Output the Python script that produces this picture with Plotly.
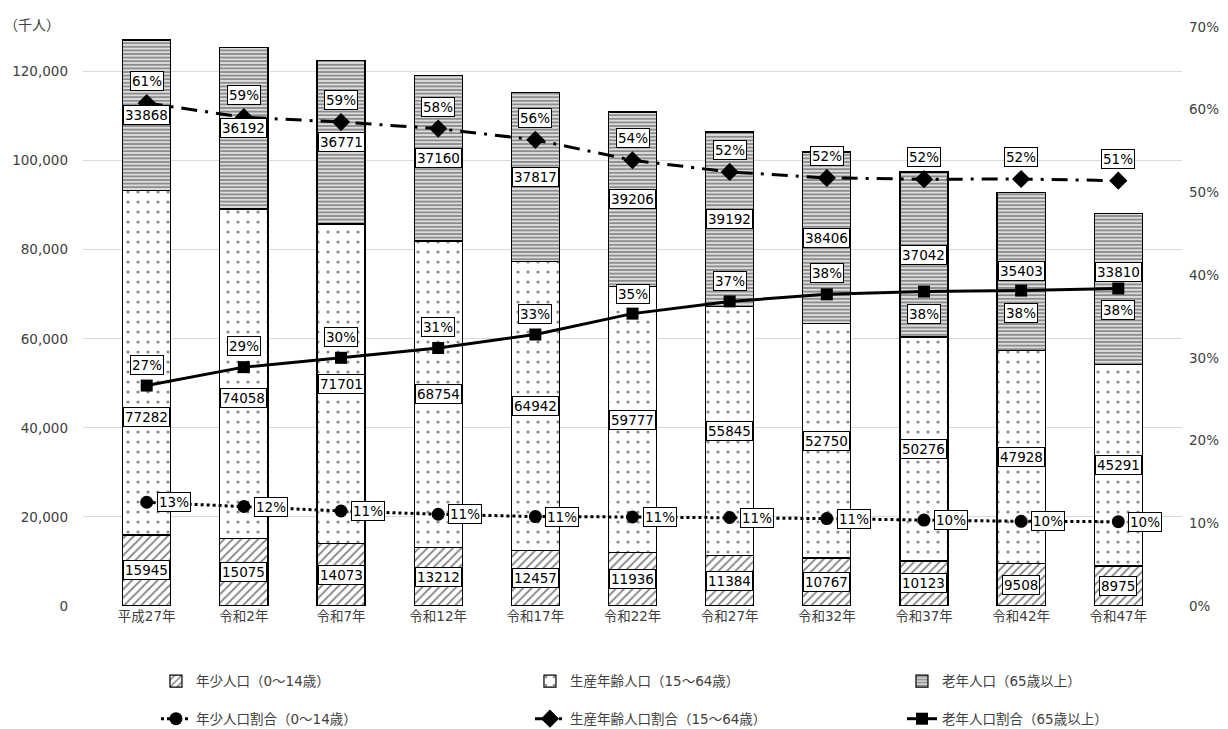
import plotly.graph_objects as go
from plotly.subplots import make_subplots

# 年次
years = ["平成27年", "令和2年", "令和7年", "令和12年", "令和17年", "令和22年",
         "令和27年", "令和32年", "令和37年", "令和42年", "令和47年"]

# 年齢3区分別人口（千人）
young = [15945, 15075, 14073, 13212, 12457, 11936, 11384, 10767, 10123, 9508, 8975]
working = [77282, 74058, 71701, 68754, 64942, 59777, 55845, 52750, 50276, 47928, 45291]
elderly = [33868, 36192, 36771, 37160, 37817, 39206, 39192, 38406, 37042, 35403, 33810]

# 総人口に対する割合
total = [a + b + c for a, b, c in zip(young, working, elderly)]
young_ratio = [a / t for a, t in zip(young, total)]
working_ratio = [b / t for b, t in zip(working, total)]
elderly_ratio = [c / t for c, t in zip(elderly, total)]

# ラベルの縦方向の微調整（px）
working_label_shift = [-54, -24, 0, 0, 0, 0, 0, 0, 0, 0, 0]
elderly_label_shift = [0, 0, 0, 0, 0, 0, 0, 0, 0, 0, 17]
elderly_pct_shift = [21, 21, 21, 21, 21, 20, 20, 21, -22, -22, -22]

FONT = "DejaVu Sans, Noto Sans CJK JP, sans-serif"
TXT = "#404040"

fig = make_subplots(specs=[[{"secondary_y": True}]])

bar_line = dict(color="black", width=1.2)
fig.add_trace(go.Bar(
    x=years, y=young, name="年少人口（0～14歳）",
    legend="legend", legendgroup="young",
    marker=dict(color="white", line=bar_line,
                pattern=dict(shape="/", fgcolor="black", bgcolor="white",
                             size=6, solidity=0.3)),
), secondary_y=False)
fig.add_trace(go.Bar(
    x=years, y=working, name="生産年齢人口（15～64歳）",
    legend="legend2", legendgroup="working",
    marker=dict(color="white", line=bar_line,
                pattern=dict(shape=".", fgcolor="#111111", bgcolor="white",
                             size=10, solidity=0.08)),
), secondary_y=False)
fig.add_trace(go.Bar(
    x=years, y=elderly, name="老年人口（65歳以上）",
    legend="legend3", legendgroup="elderly",
    marker=dict(color="white", line=bar_line,
                pattern=dict(shape="-", fgcolor="#1a1a1a", bgcolor="white",
                             size=3.6, solidity=0.65)),
), secondary_y=False)

fig.add_trace(go.Scatter(
    x=years, y=young_ratio, name="年少人口割合（0～14歳）",
    legend="legend", legendgroup="young_r",
    mode="lines+markers",
    line=dict(color="black", width=3, dash="dot"),
    marker=dict(symbol="circle", size=13, color="black"),
), secondary_y=True)
fig.add_trace(go.Scatter(
    x=years, y=working_ratio, name="生産年齢人口割合（15～64歳）",
    legend="legend2", legendgroup="working_r",
    mode="lines+markers",
    line=dict(color="black", width=3, dash="16px,8px,3px,8px"),
    marker=dict(symbol="diamond", size=14, color="black"),
), secondary_y=True)
fig.add_trace(go.Scatter(
    x=years, y=elderly_ratio, name="老年人口割合（65歳以上）",
    legend="legend3", legendgroup="elderly_r",
    mode="lines+markers",
    line=dict(color="black", width=3),
    marker=dict(symbol="square", size=12, color="black"),
), secondary_y=True)

# データラベル
label_style = dict(showarrow=False, bgcolor="white", bordercolor="black",
                   borderwidth=1, borderpad=1,
                   font=dict(family=FONT, size=13.5, color="black"))
annotations = []
for i, cat in enumerate(years):
    base_w = young[i]
    base_e = young[i] + working[i]
    annotations.append(dict(x=cat, y=young[i] / 2, xref="x", yref="y",
                            text=str(young[i]), **label_style))
    annotations.append(dict(x=cat, y=base_w + working[i] / 2, xref="x", yref="y",
                            yshift=working_label_shift[i],
                            text=str(working[i]), **label_style))
    annotations.append(dict(x=cat, y=base_e + elderly[i] / 2, xref="x", yref="y",
                            yshift=elderly_label_shift[i],
                            text=str(elderly[i]), **label_style))
    annotations.append(dict(x=cat, y=young_ratio[i], xref="x", yref="y2",
                            xshift=27, text=f"{young_ratio[i]:.0%}", **label_style))
    annotations.append(dict(x=cat, y=working_ratio[i], xref="x", yref="y2",
                            yshift=22, text=f"{working_ratio[i]:.0%}", **label_style))
    annotations.append(dict(x=cat, y=elderly_ratio[i], xref="x", yref="y2",
                            yshift=elderly_pct_shift[i],
                            text=f"{elderly_ratio[i]:.0%}", **label_style))

annotations.append(dict(text="（千人）", xref="paper", yref="paper",
                        x=-0.074, y=1.003, xanchor="left", yanchor="middle",
                        showarrow=False,
                        font=dict(family=FONT, size=14, color=TXT)))

# 凡例は3列（各列に人口と割合の2行）
legend_common = dict(orientation="v", xanchor="left", yanchor="middle",
                     y=-0.163, tracegroupgap=17, traceorder="grouped",
                     bgcolor="rgba(0,0,0,0)",
                     font=dict(family=FONT, size=13.5, color=TXT))

fig.update_layout(
    width=1228, height=729,
    margin=dict(l=83, r=46, t=27, b=123, autoexpand=False),
    paper_bgcolor="white", plot_bgcolor="white",
    barmode="stack", bargap=0.505,
    font=dict(family=FONT, color=TXT),
    annotations=annotations,
    legend=dict(x=0.0664, **legend_common),
    legend2=dict(x=0.4067, **legend_common),
    legend3=dict(x=0.7452, **legend_common),
)

fig.update_xaxes(domain=[0, 1], showgrid=False, showline=False, ticks="",
                 tickfont=dict(family=FONT, size=13.5, color=TXT))
fig.update_yaxes(range=[0, 130000], dtick=20000, tickformat=",",
                 showgrid=True, gridcolor="#d9d9d9", gridwidth=1,
                 zeroline=False, showline=False, ticks="",
                 ticklabelstandoff=14,
                 tickfont=dict(family=FONT, size=13.5, color=TXT),
                 secondary_y=False)
fig.update_yaxes(range=[0, 0.7], dtick=0.1, tickformat=".0%",
                 showgrid=False, zeroline=False, showline=False, ticks="",
                 ticklabelstandoff=6,
                 tickfont=dict(family=FONT, size=13.5, color=TXT),
                 secondary_y=True)

fig.write_html("out.html")
